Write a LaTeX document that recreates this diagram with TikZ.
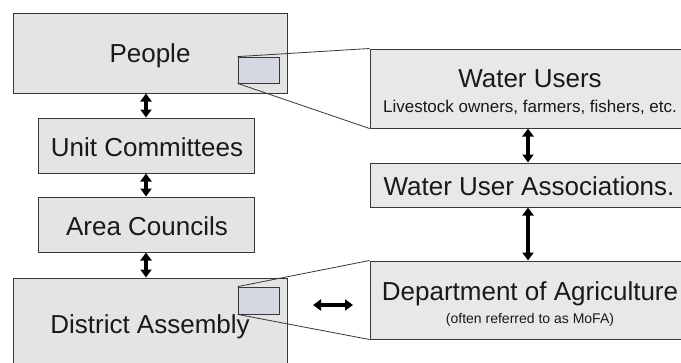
\documentclass[tikz,border=0pt]{standalone}
\usepackage{fontspec}
\setmainfont{Liberation Sans}
\usetikzlibrary{arrows.meta}
\definecolor{boxfill}{RGB}{228,228,228}
\definecolor{boxfillR}{RGB}{232,232,232}
\definecolor{insetfill}{RGB}{212,216,224}
\definecolor{edge}{RGB}{55,55,55}
\tikzset{
  box/.style={draw=edge, line width=1pt, fill=boxfill, inner sep=0pt},
  rbox/.style={draw=edge, line width=1pt, fill=boxfillR, inner sep=0pt},
  inset/.style={draw=edge, line width=0.8pt, fill=insetfill, inner sep=0pt},
  big/.style={font=\fontsize{26}{30}\selectfont, anchor=base, inner sep=0pt, text=black!90},
  mid/.style={font=\fontsize{17}{20}\selectfont, anchor=base, inner sep=0pt, text=black!90},
  small/.style={font=\fontsize{14}{16}\selectfont, anchor=base, inner sep=0pt, text=black!90},
  dbl/.style={line width=3.5pt, {Triangle[length=8pt,width=11pt]}-{Triangle[length=8pt,width=11pt]}},
  callout/.style={draw=edge, line width=0.8pt}
}
\begin{document}
\begin{tikzpicture}[x=1pt,y=-1pt]
\useasboundingbox (0,0) rectangle (681,362);
\clip (0,0) rectangle (681,362);
\fill[white] (0,0) rectangle (681,362);
% left column boxes
\node[box, minimum width=274pt, minimum height=80pt] (people) at (150,53) {};
\node[box, minimum width=216pt, minimum height=55pt] (unit) at (146,145.5) {};
\node[box, minimum width=216pt, minimum height=55pt] (area) at (146,224.5) {};
\node[box, minimum width=274pt, minimum height=90pt] (district) at (150,323) {};
% right column boxes
\node[rbox, minimum width=318pt, minimum height=79pt] (wu) at (529,88.5) {};
\node[rbox, minimum width=318pt, minimum height=44pt] (wua) at (529,185) {};
\node[rbox, minimum width=318pt, minimum height=78pt] (doa) at (529,300) {};
% insets
\node[inset, minimum width=41pt, minimum height=26pt] (in1) at (258.5,70) {};
\node[inset, minimum width=41pt, minimum height=27pt] (in2) at (258.5,300.5) {};
% texts
\node[big] (tpeople) at (150,62) {People};
\node[big] (tunit) at (147,156) {Unit Committees};
\node[big] (tarea) at (147,235) {Area Councils};
\node[big] (tdistrict) at (150,333) {District Assembly};
\node[big] (twu) at (530,87) {Water Users};
\node[mid] (twu2) at (530,112) {Livestock owners, farmers, fishers, etc.};
\node[big] (twua) at (529,195) {Water User Associations.};
\node[big] (tdoa) at (530,300) {Department of Agriculture};
\node[small] (tdoa2) at (530,323) {(often referred to as MoFA)};
% callout lines
\draw[callout] (in1.north west) -- (wu.north west);
\draw[callout] (in1.south west) -- (wu.south west);
\draw[callout] (in2.north west) -- (doa.north west);
\draw[callout] (in2.south west) -- (doa.south west);
% arrows
\draw[dbl] (unit.north) -- (unit.north |- people.south);
\draw[dbl] (area.north) -- (unit.south);
\draw[dbl] (area.south) -- (area.south |- district.north);
\draw[dbl] (wua.north -| 528,0) -- (wu.south -| 528,0);
\draw[dbl] (doa.north -| 528,0) -- (wua.south -| 528,0);
\coordinate (ha) at (313,305);
\coordinate (hb) at (353,305);
\draw[dbl] (ha) -- (hb);
\end{tikzpicture}
\end{document}
